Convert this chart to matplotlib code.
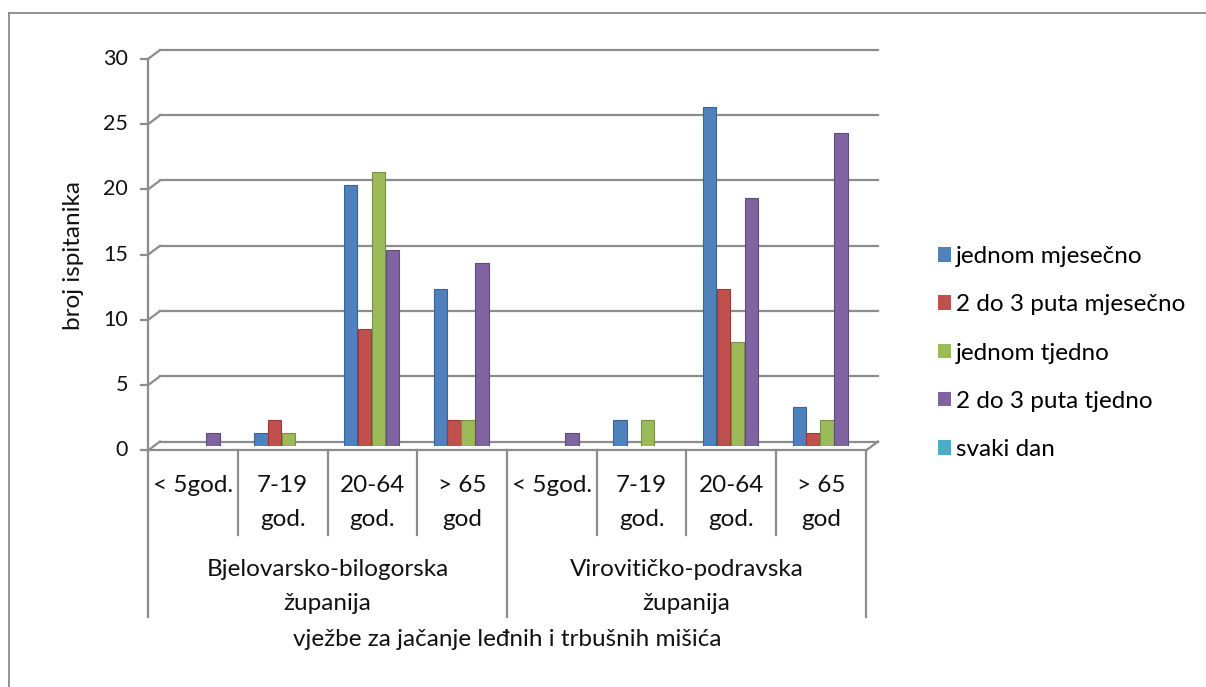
import matplotlib.pyplot as plt
import matplotlib.transforms as mtransforms
from matplotlib.lines import Line2D
from matplotlib.patches import Patch

plt.rcParams['font.family'] = ['Lato', 'DejaVu Sans']

# data
groups = ["Bjelovarsko-bilogorska\nžupanija", "Virovitičko-podravska\nžupanija"]
ages = ["< 5god.", "7-19\ngod.", "20-64\ngod.", "> 65\ngod"]
series = ["jednom mjesečno", "2 do 3 puta mjesečno", "jednom tjedno",
          "2 do 3 puta tjedno", "svaki dan"]
colors = ["#4F81BD", "#C0504D", "#9BBB59", "#8064A2", "#4BACC6"]
edges = ["#3A6391", "#953C3A", "#779043", "#5F4A7A", "#3A8599"]

jednom_mjesecno = [0, 1, 20, 12, 0, 2, 26, 3]
puta_mjesecno = [0, 2, 9, 2, 0, 0, 12, 1]
jednom_tjedno = [0, 1, 21, 2, 0, 2, 8, 2]
puta_tjedno = [1, 0, 15, 14, 1, 0, 19, 24]
svaki_dan = [0, 0, 0, 0, 0, 0, 0, 0]
values = [jednom_mjesecno, puta_mjesecno, jednom_tjedno, puta_tjedno, svaki_dan]

W, H = 1206, 687
fs = 17.5      # text size
fs_tick = 15.5  # y tick digits
tc = '#111111'

fig = plt.figure(figsize=(W / 100, H / 100), dpi=100)

# axes placed at the middle depth of the fake 3d box
x0, x1 = 154, 872
y0, y1 = 446, 54.5
ax = fig.add_axes([x0 / W, (H - y0) / H, (x1 - x0) / W, (y0 - y1) / H])
ax.set_xlim(0, 8)
ax.set_ylim(0, 30)
ax.axis('off')

dx, dy = 6, 4.5  # depth offset in px
back = ax.transData + mtransforms.ScaledTranslation(dx / 100, dy / 100, fig.dpi_scale_trans)
front = ax.transData + mtransforms.ScaledTranslation(-dx / 100, -dy / 100, fig.dpi_scale_trans)
gc = "#8c8c8c"

# gridlines on the back wall + diagonals to the front axis
for t in range(0, 31, 5):
    ax.plot([0, 8], [t, t], color=gc, lw=1.6, transform=back, clip_on=False, zorder=1)
    p_back = back.transform((0, t))
    p_front = front.transform((0, t))
    fig.add_artist(Line2D([p_back[0] / W, p_front[0] / W], [p_back[1] / H, p_front[1] / H],
                          color=gc, lw=1.6))
    fig.add_artist(Line2D([(p_front[0] - 7) / W, p_front[0] / W], [p_front[1] / H, p_front[1] / H],
                          color=gc, lw=1.6))
    fig.text((p_front[0] - 20) / W, p_front[1] / H, str(t), ha='right', va='center',
             fontsize=fs_tick, color=tc)

# front y axis (runs on down as the table's left border)
pf0 = front.transform((0, 0))
pf30 = front.transform((0, 30))
fig.add_artist(Line2D([pf0[0] / W] * 2, [(H - 617) / H, pf30[1] / H], color=gc, lw=1.6))

# floor front edge and right diagonal
pr_front = front.transform((8, 0))
pr_back = back.transform((8, 0))
fig.add_artist(Line2D([pf0[0] / W, pr_front[0] / W], [pf0[1] / H] * 2, color=gc, lw=1.6))
fig.add_artist(Line2D([pr_front[0] / W, pr_back[0] / W], [pr_front[1] / H, pr_back[1] / H],
                      color=gc, lw=1.6))

# bars
w = 0.155
for j, (vals, c, ec) in enumerate(zip(values, colors, edges)):
    xs = [i + 0.5 + (j - 2) * w for i in range(8) if vals[i] > 0]
    hs = [v for v in vals if v > 0]
    ax.bar(xs, hs, width=w * 0.97, color=c, edgecolor=ec, linewidth=0.8, zorder=3)

# category table below the floor
fy = pf0[1]
cell_w = (pr_front[0] - pf0[0]) / 8
for i in range(1, 8):
    xp = pf0[0] + i * cell_w
    y_end = 617 if i == 4 else 535
    fig.add_artist(Line2D([xp / W] * 2, [fy / H, (H - y_end) / H], color=gc, lw=1.6))
fig.add_artist(Line2D([pr_front[0] / W] * 2, [fy / H, (H - 617) / H], color=gc, lw=1.6))

for g in range(2):
    for k, lab in enumerate(ages):
        xc = pf0[0] + (g * 4 + k + 0.5) * cell_w
        for li, line in enumerate(lab.split("\n")):
            fig.text(xc / W, (H - 486 - 33 * li) / H, line, ha='center', va='center',
                     fontsize=fs, color=tc)
    xc = pf0[0] + (g * 4 + 2) * cell_w
    for li, line in enumerate(groups[g].split("\n")):
        fig.text(xc / W, (H - 570 - 33 * li) / H, line, ha='center', va='center',
                 fontsize=fs, color=tc)

fig.text((pf0[0] + 4 * cell_w) / W, (H - 640) / H,
         "vježbe za jačanje leđnih i trbušnih mišića",
         ha='center', va='center', fontsize=fs, color=tc)
fig.text(74 / W, (H - 256) / H, "broj ispitanika", rotation=90, ha='center',
         va='center', fontsize=fs, color=tc)

# legend
handles = [Patch(facecolor=c, edgecolor='none') for c in colors]
fig.legend(handles, series, loc='center left', bbox_to_anchor=(938 / W, (H - 353) / H),
           frameon=False, fontsize=fs, handlelength=0.55, handleheight=0.55,
           handletextpad=0.2, labelspacing=1.12, borderaxespad=0, borderpad=0)

# outer chart border (only top and left visible)
fig.add_artist(Line2D([9 / W, 1], [(H - 13) / H] * 2, color="#808080", lw=1.2))
fig.add_artist(Line2D([9 / W] * 2, [0, (H - 13) / H], color="#808080", lw=1.2))

fig.savefig("out.png", dpi=100)
